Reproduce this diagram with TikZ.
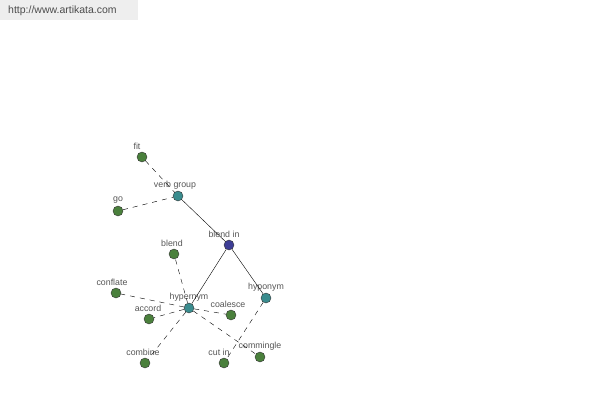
\documentclass[tikz,border=0pt]{standalone}
\usepackage{fontspec}
\setmainfont{Liberation Sans}
\definecolor{leafgreen}{RGB}{74,128,60}
\definecolor{relteal}{RGB}{58,140,142}
\definecolor{rootblue}{RGB}{62,62,150}
\definecolor{labelgray}{RGB}{85,85,85}
\definecolor{bargray}{RGB}{238,238,238}
\def\rad{5pt}
\tikzset{
  wnode/.style={circle,draw=black!80,line width=0.4pt,inner sep=0pt,minimum size=2*\rad},
  leaf/.style={wnode,fill=leafgreen},
  rel/.style={wnode,fill=relteal},
  root/.style={wnode,fill=rootblue},
  lbl/.style={text=labelgray,font=\fontsize{8.8}{10}\selectfont,inner sep=0pt},
  link/.style={draw=black,line width=0.4pt},
  dlink/.style={draw=black,line width=0.4pt,dash pattern=on 5pt off 5pt}
}

\begin{document}
\begin{tikzpicture}[x=1pt,y=-1pt]

%page is 600 x 400, y runs downwards
\useasboundingbox (0,0) rectangle (600,400);

%site banner
\fill[bargray] (0,0) rectangle (138,20);
\node[anchor=west,text=black!70,font=\fontsize{10.5}{12}\selectfont,inner sep=0pt] (site) at (8,11) {http://www.artikata.com};

%the word nodes
\node[root] (blendin) at (229,245) {};
\node[rel] (verbgroup) at (178,196) {};
\node[rel] (hypernym) at (189,308) {};
\node[rel] (hyponym) at (266,298) {};
\node[leaf] (fit) at (142,157) {};
\node[leaf] (go) at (118,211) {};
\node[leaf] (blend) at (174,254) {};
\node[leaf] (conflate) at (116,293) {};
\node[leaf] (accord) at (149,319) {};
\node[leaf] (coalesce) at (231,315) {};
\node[leaf] (combine) at (145,363) {};
\node[leaf] (cutin) at (224,363) {};
\node[leaf] (commingle) at (260,357) {};

%labels sit above each node, some nudged left
\foreach \n/\t/\dx in {blendin/blend in/-5,verbgroup/verb group/-3,hypernym/hypernym/0,
    hyponym/hyponym/0,fit/fit/-5,go/go/0,blend/blend/-2,conflate/conflate/-4,
    accord/accord/-1,coalesce/coalesce/-3,combine/combine/-2,cutin/cut in/-5,
    commingle/commingle/0}{
   \node[lbl] (\n-l) at ([xshift=\dx pt,yshift=10.5pt]\n.center) {\t};
}

%relations
\draw[link] (verbgroup) -- (blendin);
\draw[link] (blendin) -- (hypernym);
\draw[link] (blendin) -- (hyponym);
\draw[dlink] (fit) -- (verbgroup);
\draw[dlink] (go) -- (verbgroup);
\draw[dlink] (hyponym) -- (cutin);
\foreach \w in {blend,conflate,accord,coalesce,combine,commingle}{
   \draw[dlink] (hypernym) -- (\w);
}

\end{tikzpicture}
\end{document}
